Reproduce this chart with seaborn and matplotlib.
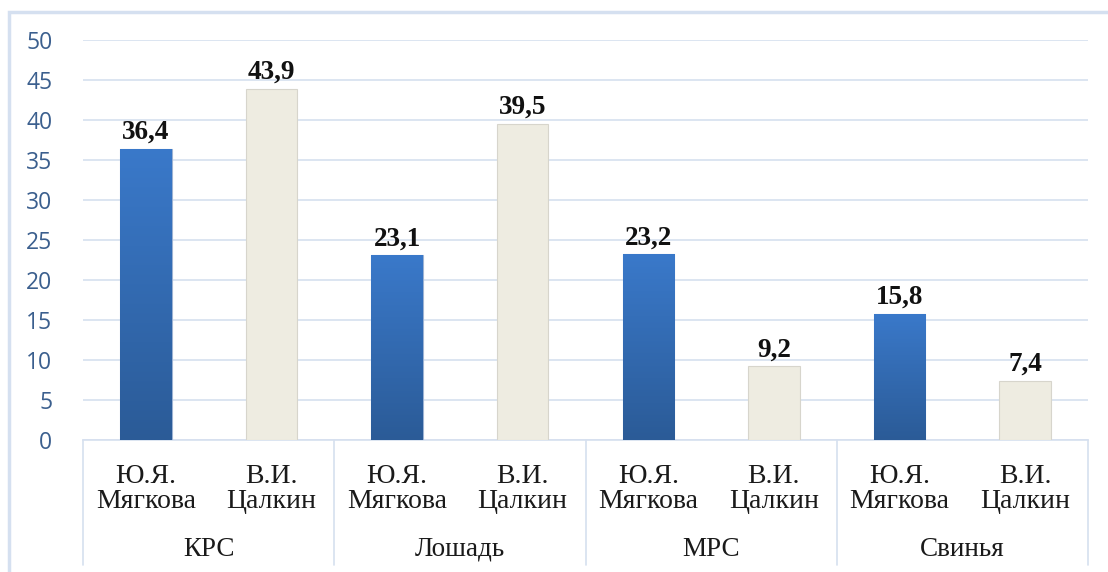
import numpy as np
import pandas as pd
import matplotlib
matplotlib.use("Agg")
import matplotlib.pyplot as plt
import seaborn as sns
from matplotlib.lines import Line2D
from matplotlib.patches import Rectangle

# data
groups = ["КРС", "Лошадь", "МРС", "Свинья"]
authors = ["Ю.Я.\nМягкова", "В.И.\nЦалкин"]
myagkova = [36.4, 23.1, 23.2, 15.8]
tsalkin = [43.9, 39.5, 9.2, 7.4]
yticks = [0, 5, 10, 15, 20, 25, 30, 35, 40, 45, 50]

rows = []
for g, a, b in zip(groups, myagkova, tsalkin):
    rows.append({"slot": g + "|" + authors[0], "author": authors[0], "value": a})
    rows.append({"slot": g + "|" + authors[1], "author": authors[1], "value": b})
df = pd.DataFrame(rows)

sns.set_style("white")
W, H = 1108, 572
fig = plt.figure(figsize=(W / 100, H / 100), dpi=100)
ax = fig.add_axes([83 / W, 1 - 440 / H, (1088 - 83) / W, 400 / H])

grid_c = "#D6E0EF"
beige = "#EEECE1"

sns.barplot(data=df, x="slot", y="value", hue="author", dodge=False,
            width=0.41, palette=["#3572C0", beige], legend=False, ax=ax,
            saturation=1, zorder=3)

# gradient on blue bars, soft edge on beige
grad = np.linspace(0, 1, 256).reshape(-1, 1)
blue_cmap = matplotlib.colors.LinearSegmentedColormap.from_list(
    "b", ["#2B5B97", "#3A79CA"])
for p in ax.patches:
    fc = matplotlib.colors.to_hex(p.get_facecolor())
    x0, y0 = p.get_x(), p.get_y()
    w, h = p.get_width(), p.get_height()
    if fc.lower() != beige.lower():
        im = ax.imshow(grad, extent=[x0, x0 + w, y0, y0 + h], origin="lower",
                       cmap=blue_cmap, aspect="auto", zorder=3.1)
        im.set_clip_path(p)
        p.set_edgecolor("#9DB3D3")
    else:
        p.set_edgecolor("#D7D5CC")
    p.set_linewidth(0.8)

ax.set_xlim(-0.5, 7.5)
ax.set_ylim(0, 50)
ax.set_yticks(yticks)
ax.set_yticklabels([str(t) for t in yticks], color="#3B5F8E",
                   fontsize=16.5, family="Open Sans")
ax.tick_params(axis="y", length=0, pad=22)
ax.yaxis.grid(True, color=grid_c, linewidth=1.2, zorder=0)
ax.set_axisbelow(True)
for s in ["top", "right", "left"]:
    ax.spines[s].set_visible(False)
ax.spines["bottom"].set_color(grid_c)
ax.spines["bottom"].set_linewidth(1.2)
ax.set_xlabel("")
ax.set_ylabel("")

# author labels on the x axis
ax.set_xticks(range(8))
ax.set_xticklabels([authors[i % 2] for i in range(8)], family="Liberation Serif",
                   fontsize=20, color="#1a1a1a", linespacing=1.0)
ax.tick_params(axis="x", length=0, pad=17)

# bar values
for i, (a, b) in enumerate(zip(myagkova, tsalkin)):
    for j, v in enumerate([a, b]):
        ax.text(2 * i + j, v + 0.5, f"{v:.1f}".replace(".", ","),
                ha="center", va="bottom", fontsize=19.5, fontweight="bold",
                family="Liberation Serif", color="#111111")

# group labels and separators
trans = ax.get_xaxis_transform()
sep_bottom = -(565 - 440) / 400
for k in range(5):
    ax.add_line(Line2D([2 * k - 0.5, 2 * k - 0.5], [0, sep_bottom],
                       transform=trans, color=grid_c, linewidth=1.2,
                       clip_on=False))
for i, g in enumerate(groups):
    ax.text(2 * i + 0.5, -(549 - 440) / 400, g, transform=trans,
            ha="center", va="center", fontsize=19.5, family="Liberation Serif",
            color="#1a1a1a")

# outer chart frame
fig.patches.append(Rectangle((9 / W, -0.05), 1.2, 1 - 12 / H + 0.05,
                             transform=fig.transFigure, fill=False,
                             edgecolor="#D5E0F0", linewidth=2.5))

fig.savefig("out.png", dpi=100)
